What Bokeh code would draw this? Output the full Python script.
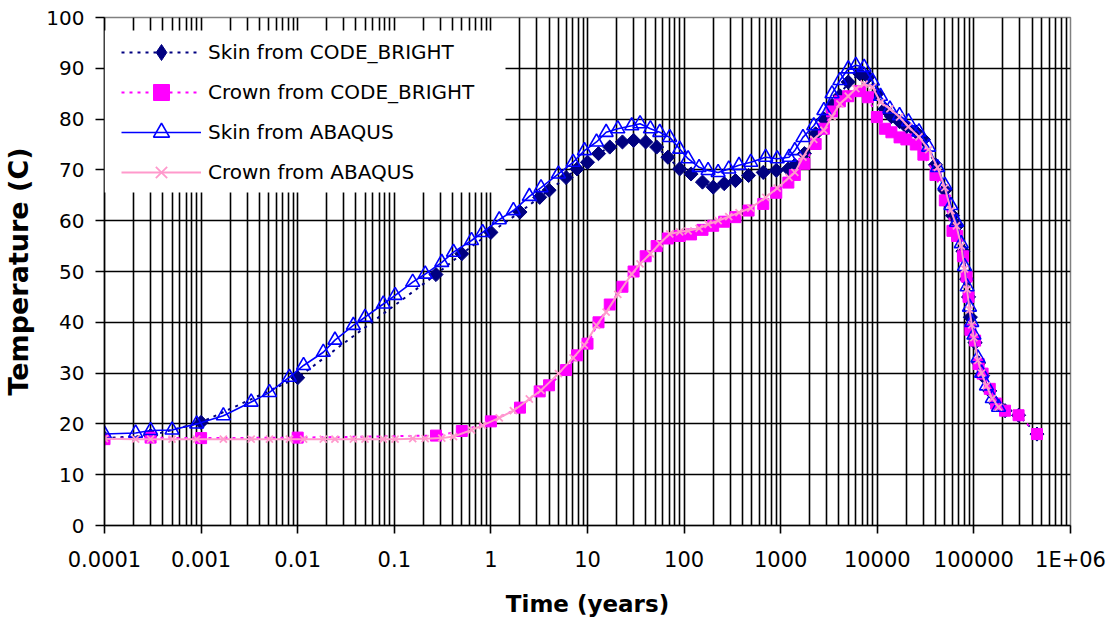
import numpy as np
from bokeh.plotting import figure
from bokeh.models import Range1d, FixedTicker, Legend, LegendItem, BoxAnnotation
from bokeh.embed import file_html
from bokeh.resources import INLINE

# ---------------- data ----------------
x_title = "Time (years)"
y_title = "Temperature (C)"

x_tick_values = [1e-4, 1e-3, 1e-2, 1e-1, 1, 10, 100, 1000, 1e4, 1e5, 1e6]
x_tick_labels = ["0.0001", "0.001", "0.01", "0.1", "1", "10", "100", "1000",
                 "10000", "100000", "1E+06"]
y_tick_values = [0, 10, 20, 30, 40, 50, 60, 70, 80, 90, 100]

series_labels = ["Skin from CODE_BRIGHT", "Crown from CODE_BRIGHT",
                 "Skin from ABAQUS", "Crown from ABAQUS"]

cb_time = [1e-4, 3e-4, 1e-3, 0.01, 0.27, 0.5, 1.0, 2.0, 3.2, 4.0,
           6.0, 7.8, 10, 13, 17, 23, 30, 40, 52, 68,
           90, 118, 155, 200, 260, 340, 465, 660, 900, 1200,
           1400, 1760, 2300, 2800, 3400, 4100, 5000, 6600, 8000, 9900,
           12000, 14000, 17000, 20000, 25000, 30000, 40000, 50000, 60000, 67000,
           77000, 84000, 88000, 92000, 103000, 112000, 123000, 146000, 170000, 210000,
           290000, 450000]
cb_skin = [17.2, 17.7, 20.3, 29.1, 49.4, 53.5, 57.7, 61.7, 64.6, 66.0,
           68.5, 70.2, 71.5, 73.2, 74.5, 75.5, 75.8, 75.5, 74.5, 72.5,
           70.2, 69.2, 67.6, 66.6, 67.3, 67.9, 68.9, 69.5, 69.9, 70.2,
           70.9, 73.2, 77.1, 80.0, 82.7, 84.6, 87.3, 88.9, 88.3, 85.0,
           82.0, 80.5, 79.5, 78.5, 77.5, 76.0, 71.0, 66.0, 61.0, 59.0,
           54.0, 48.5, 45.0, 41.0, 36.0, 32.0, 29.5, 26.5, 24.0, 22.6,
           21.7, 18.0]
cb_crown = [17.0, 17.3, 17.2, 17.3, 17.7, 18.6, 20.5, 23.2, 26.4, 27.6,
            30.6, 33.5, 35.8, 40.0, 43.5, 47.0, 50.0, 53.0, 55.0, 56.5,
            57.0, 57.3, 58.2, 59.0, 59.8, 60.7, 62.0, 63.3, 65.5, 67.5,
            69.0, 71.2, 75.1, 78.1, 81.5, 83.5, 84.5, 85.5, 84.3, 80.4,
            78.1, 77.4, 76.4, 76.0, 75.0, 73.0, 69.0, 64.0, 58.0, 57.0,
            53.0, 49.0, 45.0, 38.5, 36.4, 31.8, 29.9, 26.9, 24.0, 22.6,
            21.7, 18.0]

ab_time = [1e-4, 2.1e-4, 3e-4, 5e-4, 9e-4, 1.7e-3, 3.3e-3, 5.1e-3, 8.2e-3, 0.0115,
           0.0184, 0.0243, 0.0377, 0.0498, 0.077, 0.102, 0.155, 0.209, 0.31, 0.41,
           0.63, 0.82, 1.22, 1.71, 2.5, 3.3, 5.0, 7.1, 9.3, 12.4,
           15.6, 20.6, 28.7, 35, 44.8, 56, 71, 90, 110, 143,
           177, 225, 290, 370, 490, 700, 920, 1220, 1400, 1700,
           2200, 2800, 3400, 4100, 5000, 6000, 7300, 8900, 10800, 13500,
           17000, 21000, 27000, 34000, 42000, 50000, 58000, 66000, 74000, 80000,
           85000, 90000, 95000, 100000, 110000, 120000, 135000, 155000, 180000]
ab_skin = [18.0, 18.2, 18.7, 18.8, 20.0, 21.6, 24.3, 26.2, 29.2, 31.5,
           34.1, 36.5, 39.4, 41.0, 43.6, 45.3, 47.9, 49.5, 51.8, 53.8,
           56.1, 57.7, 60.2, 62.0, 64.8, 66.5, 69.2, 71.5, 73.8, 75.5,
           77.4, 78.1, 78.7, 79.1, 78.1, 77.4, 76.4, 74.1, 72.2, 70.5,
           69.9, 69.5, 70.2, 70.9, 71.5, 72.5, 72.2, 72.5, 73.8, 76.4,
           78.7, 81.7, 85.0, 87.6, 89.9, 90.6, 90.2, 87.5, 84.5, 82.0,
           80.7, 79.5, 77.5, 74.5, 70.5, 67.0, 63.0, 59.7, 55.5, 51.0,
           47.0, 43.0, 40.0, 37.5, 33.0, 30.0, 27.5, 25.0, 23.3]
ab_crown = [17.1, 17.0, 17.0, 17.0, 17.0, 17.0, 17.0, 17.0, 17.0, 17.0,
            17.0, 17.0, 17.0, 17.0, 17.0, 17.0, 17.1, 17.1, 17.2, 17.5,
            18.8, 19.7, 21.2, 22.6, 24.9, 26.6, 29.9, 33.0, 35.5, 39.4,
            42.0, 45.5, 49.5, 51.5, 53.5, 55.5, 57.4, 57.8, 58.0, 58.5,
            59.3, 60.0, 60.8, 61.6, 62.5, 64.6, 66.4, 68.5, 69.5, 72.5,
            76.0, 77.8, 80.5, 83.0, 84.5, 86.0, 86.9, 86.3, 83.3, 82.0,
            80.4, 78.5, 76.5, 74.0, 70.5, 66.5, 62.0, 59.0, 55.0, 50.5,
            46.5, 42.5, 39.5, 37.0, 32.5, 30.0, 27.5, 25.0, 23.3]

# ---------------- figure ----------------
FONT = "DejaVu Sans"

p = figure(x_axis_type="log", x_range=Range1d(1e-4, 1e6), y_range=Range1d(0, 100),
           frame_width=966, frame_height=508,
           min_border_left=101, min_border_right=42, min_border_top=17, min_border_bottom=103,
           output_backend="svg", toolbar_location=None,
           background_fill_color="white", border_fill_color="white")
p.outline_line_color = "#808080"
p.outline_line_width = 1.5

minor = [m * 10.0 ** k for k in range(-4, 6) for m in range(2, 10)]
xt = FixedTicker(ticks=x_tick_values, minor_ticks=minor)
yt = FixedTicker(ticks=y_tick_values)

xa = p.xaxis[0]
xa.ticker = xt
xa.major_label_overrides = dict(zip(x_tick_values, x_tick_labels))
ya = p.yaxis[0]
ya.ticker = yt

for ax in (xa, ya):
    ax.axis_line_color = "black"
    ax.axis_line_width = 1.6
    ax.major_tick_line_color = "black"
    ax.major_tick_line_width = 1.6
    ax.major_tick_in = 0
    ax.minor_tick_in = 0
    ax.minor_tick_out = 0
    ax.major_label_text_font = FONT
    ax.major_label_text_color = "black"
    ax.axis_label_text_font = FONT
    ax.axis_label_text_font_style = "bold"
    ax.axis_label_text_color = "black"

xa.major_tick_out = 8
xa.major_label_standoff = 14
xa.major_label_text_font_size = "21px"
xa.axis_label = x_title
xa.axis_label_text_font_size = "23px"
xa.axis_label_standoff = 16
ya.major_tick_out = 9
ya.major_label_standoff = 11
ya.major_label_text_font_size = "20px"
ya.axis_label = y_title
ya.axis_label_text_font_size = "27px"
ya.axis_label_standoff = 9

p.xgrid.ticker = xt
p.xgrid.grid_line_color = "black"
p.xgrid.grid_line_width = 1.6
p.xgrid.minor_grid_line_color = "black"
p.xgrid.minor_grid_line_width = 1.6
p.ygrid.ticker = yt
p.ygrid.grid_line_color = "black"
p.ygrid.grid_line_width = 1.6

# ---------------- series ----------------
r1l = p.line(cb_time, cb_skin, line_color="#000080", line_width=2, line_dash="3 5")
r1m = p.scatter(cb_time, cb_skin, marker="square", angle=np.pi / 4, size=10,
                fill_color="#000080", line_color="#000080")
r2l = p.line(cb_time, cb_crown, line_color="#FF00FF", line_width=2, line_dash="3 5")
r2m = p.scatter(cb_time, cb_crown, marker="square", size=11,
                fill_color="#FF00FF", line_color="#FF00FF")
r3l = p.line(ab_time, ab_skin, line_color="#0000FF", line_width=1.6)
r3m = p.scatter(ab_time, ab_skin, marker="triangle", size=14, fill_alpha=0,
                line_color="#0000FF", line_width=1.6)
r4l = p.line(ab_time, ab_crown, line_color="#FF99CC", line_width=2)
r4m = p.scatter(ab_time, ab_crown, marker="x", size=10, line_color="#FF99CC", line_width=1.8)

# legend-only diamond glyph (a single undrawable NaN point)
r1k = p.scatter(x=[np.nan], y=[np.nan], marker="diamond", size=16,
                fill_color="#000080", line_color="#000080")

# ---------------- legend ----------------
box = BoxAnnotation(left=0, right=401, bottom=333, top=495,
                    left_units="screen", right_units="screen",
                    top_units="screen", bottom_units="screen",
                    fill_color="white", fill_alpha=1.0, line_alpha=0)
p.add_layout(box)

legend = Legend(items=[LegendItem(label=series_labels[0], renderers=[r1l, r1k]),
                       LegendItem(label=series_labels[1], renderers=[r2l, r2m]),
                       LegendItem(label=series_labels[2], renderers=[r3l, r3m]),
                       LegendItem(label=series_labels[3], renderers=[r4l, r4m])],
                location=(17, 333), padding=0, spacing=0, margin=0,
                glyph_width=80, glyph_height=40, label_height=40, label_standoff=7,
                background_fill_alpha=0, border_line_alpha=0,
                label_text_font=FONT, label_text_font_size="20px", label_text_color="black")
p.add_layout(legend)

open("out.html", "w").write(file_html(p, INLINE))
